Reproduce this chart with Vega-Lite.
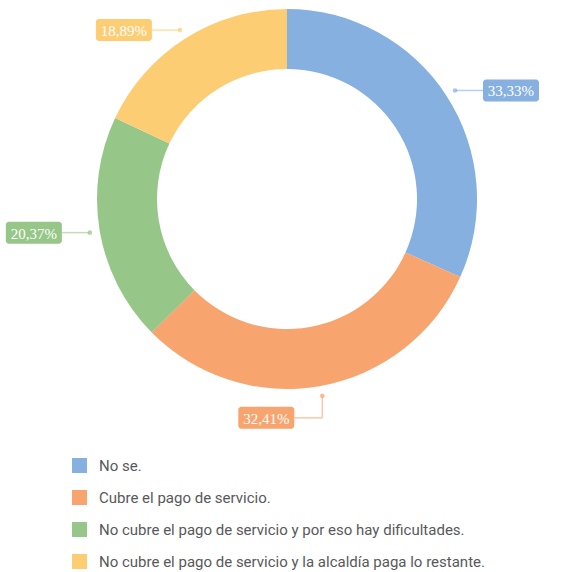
{
  "$schema": "https://vega.github.io/schema/vega-lite/v6.json",
  "width": 561,
  "height": 572,
  "autosize": "none",
  "padding": 0,
  "background": "white",
  "config": {"view": {"stroke": null}},
  "data": {
    "values": [
      {"categoria": "No se.", "valor": 33.33, "orden": 1, "etiqueta": "33,33%"},
      {"categoria": "Cubre el pago de servicio.", "valor": 32.41, "orden": 2, "etiqueta": "32,41%"},
      {"categoria": "No cubre el pago de servicio y por eso hay dificultades.", "valor": 20.37, "orden": 3, "etiqueta": "20,37%"},
      {"categoria": "No cubre el pago de servicio y la alcaldía paga lo restante.", "valor": 18.89, "orden": 4, "etiqueta": "18,89%"}
    ]
  },
  "layer": [
    {
      "mark": {"type": "arc", "innerRadius": 130, "outerRadius": 190},
      "encoding": {
        "x": {"datum": 0, "type": "quantitative", "scale": {"domain": [-287, 274], "nice": false, "zero": false}, "axis": null},
        "y": {"datum": 0, "type": "quantitative", "scale": {"domain": [-373, 199], "nice": false, "zero": false}, "axis": null},
        "theta": {"field": "valor", "type": "quantitative", "stack": true},
        "order": {"field": "orden", "type": "quantitative"},
        "color": {
          "field": "categoria",
          "type": "nominal",
          "scale": {
            "domain": ["No se.", "Cubre el pago de servicio.", "No cubre el pago de servicio y por eso hay dificultades.", "No cubre el pago de servicio y la alcaldía paga lo restante."],
            "range": ["#86B0DF", "#F7A46E", "#97C689", "#FDCD74"]
          },
          "legend": {
            "title": null,
            "orient": "none",
            "legendX": 72,
            "legendY": 458,
            "padding": 0,
            "direction": "vertical",
            "symbolType": "square",
            "symbolSize": 225,
            "symbolStrokeWidth": 0,
            "symbolOpacity": 1,
            "labelFont": "Roboto",
            "labelFontSize": 15,
            "labelColor": "#595959",
            "labelOffset": 12,
            "labelLimit": 0,
            "rowPadding": 16
          }
        }
      }
    },
    {
      "transform": [
        {"joinaggregate": [{"op": "sum", "field": "valor", "as": "total"}]},
        {"window": [{"op": "sum", "field": "valor", "as": "acum"}], "sort": [{"field": "orden"}], "frame": [null, 0]},
        {"calculate": "2*PI*(datum.acum - datum.valor/2)/datum.total", "as": "ang"},
        {"calculate": "200*sin(datum.ang)", "as": "px"},
        {"calculate": "200*cos(datum.ang)", "as": "py"},
        {"calculate": "datum.px > 60 ? 1 : -1", "as": "lado"},
        {"calculate": "datum.py < -180 ? datum.py - 22 : datum.py", "as": "by"},
        {"calculate": "datum.px + datum.lado*28", "as": "bx"},
        {"calculate": "datum.bx + datum.lado*56", "as": "bx2"},
        {"calculate": "(datum.bx + datum.bx2)/2", "as": "tx"},
        {"calculate": "datum.by + 11", "as": "by1"},
        {"calculate": "datum.by - 11", "as": "by2"}
      ],
      "layer": [
        {
          "mark": {"type": "rule", "strokeWidth": 1.5, "strokeOpacity": 0.6},
          "encoding": {
            "x": {"field": "px", "type": "quantitative", "scale": {"domain": [-287, 274], "nice": false, "zero": false}, "axis": null},
            "y": {"field": "py", "type": "quantitative", "scale": {"domain": [-373, 199], "nice": false, "zero": false}, "axis": null},
            "y2": {"field": "by"},
            "color": {"field": "categoria", "type": "nominal", "legend": null}
          }
        },
        {
          "mark": {"type": "rule", "strokeWidth": 1.5, "strokeOpacity": 0.6},
          "encoding": {
            "x": {"field": "px", "type": "quantitative", "axis": null},
            "x2": {"field": "bx"},
            "y": {"field": "by", "type": "quantitative", "axis": null},
            "color": {"field": "categoria", "type": "nominal", "legend": null}
          }
        },
        {
          "mark": {"type": "point", "filled": true, "size": 22, "fillOpacity": 0.7},
          "encoding": {
            "x": {"field": "px", "type": "quantitative", "axis": null},
            "y": {"field": "py", "type": "quantitative", "axis": null},
            "color": {"field": "categoria", "type": "nominal", "legend": null}
          }
        },
        {
          "mark": {"type": "rect", "cornerRadius": 3},
          "encoding": {
            "x": {"field": "bx", "type": "quantitative", "axis": null},
            "x2": {"field": "bx2"},
            "y": {"field": "by1", "type": "quantitative", "axis": null},
            "y2": {"field": "by2"},
            "color": {"field": "categoria", "type": "nominal", "legend": null}
          }
        },
        {
          "mark": {"type": "text", "font": "Liberation Serif", "fontSize": 15, "color": "white", "align": "center", "baseline": "middle", "dy": 1},
          "encoding": {
            "x": {"field": "tx", "type": "quantitative", "axis": null},
            "y": {"field": "by", "type": "quantitative", "axis": null},
            "text": {"field": "etiqueta", "type": "nominal"}
          }
        }
      ]
    }
  ]
}
